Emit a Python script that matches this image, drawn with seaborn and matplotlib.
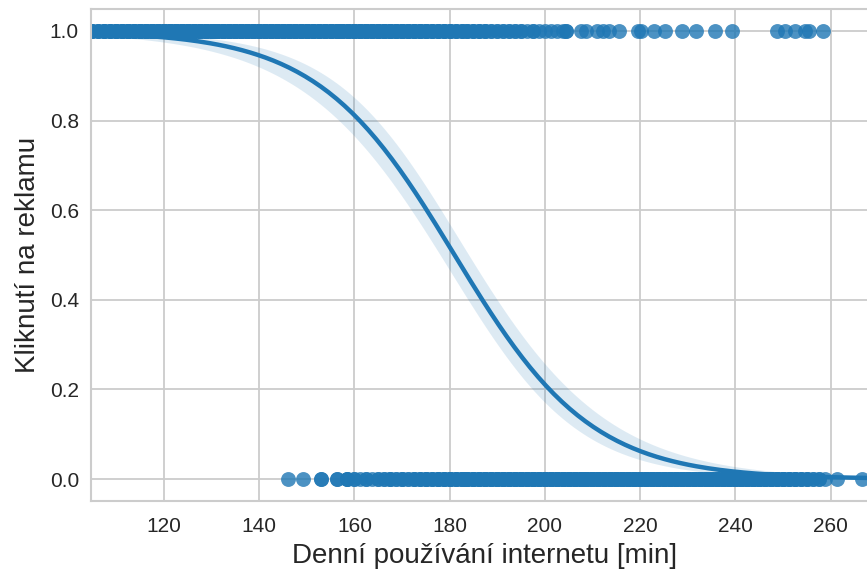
import numpy as np
import pandas as pd
import matplotlib
matplotlib.use("Agg")
import matplotlib.pyplot as plt
import seaborn as sns

# Daily internet usage [min] of users who clicked the ad, and how many users share each value
clicked_minutes = [104.8, 106.25, 107.5, 108.75, 110.0, 111.25, 112.5, 113.75, 115.0, 116.25,
                   117.5, 118.75, 120.0, 121.25, 122.5, 123.75, 125.0, 126.25, 127.5, 128.75,
                   130.0, 131.25, 132.5, 133.75, 135.0, 136.25, 137.5, 138.75, 140.0, 141.25,
                   142.5, 143.75, 145.0, 146.25, 147.5, 148.75, 150.0, 151.25, 152.5, 153.75,
                   155.0, 156.25, 157.5, 158.75, 160.0, 161.25, 162.5, 163.75, 165.0, 166.25,
                   167.5, 168.75, 170.0, 171.25, 172.5, 173.75, 175.0, 176.25, 177.5, 178.75,
                   180.0, 181.25, 182.5, 183.75, 185.0, 186.25, 187.5, 188.75, 190.0, 191.25,
                   192.5, 193.75, 195.0, 196.25, 197.5, 198.75, 200.0, 201.25, 202.5, 203.75,
                   204.5, 207.7, 208.6, 210.9, 212.2, 213.4, 215.6, 219.5, 220.2, 222.9,
                   225.2, 228.8, 231.8, 235.7, 239.3, 248.7, 250.4, 252.5, 254.7, 255.4,
                   258.5]
clicked_counts = [3, 3, 4, 4, 5, 5, 6, 5, 6, 6,
                  7, 6, 7, 7, 7, 7, 7, 7, 7, 7,
                  7, 7, 7, 7, 7, 7, 7, 7, 7, 7,
                  7, 7, 7, 7, 7, 6, 7, 6, 6, 6,
                  6, 6, 6, 6, 7, 6, 7, 6, 6, 6,
                  6, 5, 6, 5, 5, 5, 5, 4, 4, 4,
                  4, 3, 3, 3, 3, 3, 3, 2, 2, 2,
                  2, 2, 2, 1, 2, 1, 1, 1, 1, 1,
                  2, 1, 1, 1, 1, 1, 1, 1, 1, 1,
                  1, 1, 1, 1, 1, 1, 1, 1, 1, 1,
                  1]

# Daily internet usage [min] of users who did not click, and how many users share each value
ignored_minutes = [146.1, 149.3, 153.0, 156.3, 158.4,
                   160.0, 161.25, 162.5, 163.75, 165.0, 166.25, 167.5, 168.75, 170.0, 171.25,
                   172.5, 173.75, 175.0, 176.25, 177.5, 178.75, 180.0, 181.25, 182.5, 183.75,
                   185.0, 186.25, 187.5, 188.75, 190.0, 191.25, 192.5, 193.75, 195.0, 196.25,
                   197.5, 198.75, 200.0, 201.25, 202.5, 203.75, 205.0, 206.25, 207.5, 208.75,
                   210.0, 211.25, 212.5, 213.75, 215.0, 216.25, 217.5, 218.75, 220.0, 221.25,
                   222.5, 223.75, 225.0, 226.25, 227.5, 228.75, 230.0, 231.25, 232.5, 233.75,
                   235.0, 236.25, 237.5, 238.75, 240.0, 241.25, 242.5, 243.75, 245.0, 246.25,
                   247.5, 248.75, 250.0, 251.25, 252.5, 253.75, 255.0, 256.25, 257.5, 258.75,
                   261.4, 266.6, 269.96]
ignored_counts = [1, 1, 2, 2, 3,
                  2, 1, 2, 1, 2, 2, 3, 2, 3, 2,
                  3, 3, 4, 3, 4, 4, 5, 4, 5, 5,
                  5, 5, 6, 5, 6, 6, 6, 6, 7, 6,
                  7, 6, 7, 7, 7, 7, 8, 7, 8, 8,
                  8, 8, 8, 8, 8, 8, 8, 8, 8, 8,
                  8, 8, 8, 8, 8, 8, 8, 8, 8, 8,
                  8, 8, 8, 8, 8, 8, 7, 7, 7, 6,
                  6, 5, 5, 4, 4, 3, 3, 2, 2, 1,
                  1, 1, 1]

x_label = "Denní používání internetu [min]"
y_label = "Kliknutí na reklamu"

df = pd.DataFrame({
    "usage": np.concatenate([np.repeat(clicked_minutes, clicked_counts),
                             np.repeat(ignored_minutes, ignored_counts)]),
    "clicked": np.concatenate([np.ones(sum(clicked_counts)),
                               np.zeros(sum(ignored_counts))]),
})

# Logistic regression (IRLS) with a 95 % confidence band for the fitted probability
x = df["usage"].to_numpy()
y = df["clicked"].to_numpy()
xc = x.mean()
X = np.column_stack([np.ones_like(x), x - xc])
beta = np.zeros(2)
for _ in range(100):
    p = 1.0 / (1.0 + np.exp(-X @ beta))
    w = p * (1.0 - p)
    H = X.T @ (w[:, None] * X)
    step = np.linalg.solve(H, X.T @ (y - p))
    beta += step
    if np.max(np.abs(step)) < 1e-10:
        break
p = 1.0 / (1.0 + np.exp(-X @ beta))
H = X.T @ ((p * (1.0 - p))[:, None] * X)
cov = np.linalg.inv(H)

grid = np.linspace(x.min(), x.max(), 200)
G = np.column_stack([np.ones_like(grid), grid - xc])
eta = G @ beta
se = np.sqrt(np.einsum("ij,jk,ik->i", G, cov, G))
expit = lambda v: 1.0 / (1.0 + np.exp(-v))
fit = pd.DataFrame({"usage": grid, "prob": expit(eta),
                    "lo": expit(eta - 1.96 * se), "hi": expit(eta + 1.96 * se)})

sns.set_theme(style="whitegrid")
plt.rcParams["font.family"] = ["Liberation Sans", "DejaVu Sans"]

color = "#1f77b4"
fig = plt.figure(figsize=(8.67, 5.69), dpi=100)
ax = fig.add_axes([0.1055, 0.1188, 0.9071, 0.8661])

sns.regplot(data=df, x="usage", y="clicked", fit_reg=False, color=color,
            scatter_kws={"s": 115, "alpha": 0.8, "linewidths": 0}, ax=ax)
ax.fill_between(fit["usage"], fit["lo"], fit["hi"], color=color, alpha=0.15, linewidth=0)
sns.lineplot(data=fit, x="usage", y="prob", color=color, linewidth=3.2, ax=ax)

ax.set_xlim(104.78, 269.96)
ax.set_ylim(-0.05, 1.05)
ax.set_xticks([120, 140, 160, 180, 200, 220, 240, 260])
ax.set_yticks([0.0, 0.2, 0.4, 0.6, 0.8, 1.0])
ax.set_xlabel(x_label, fontsize=20, labelpad=5)
ax.set_ylabel(y_label, fontsize=20, labelpad=6)
ax.tick_params(axis="x", labelsize=15, pad=5)
ax.tick_params(axis="y", labelsize=15, pad=3)
for s in ax.spines.values():
    s.set_color("#cccccc")
    s.set_linewidth(1.5)
ax.grid(color="#cccccc", linewidth=1.3)

fig.savefig("out.png", dpi=100)
